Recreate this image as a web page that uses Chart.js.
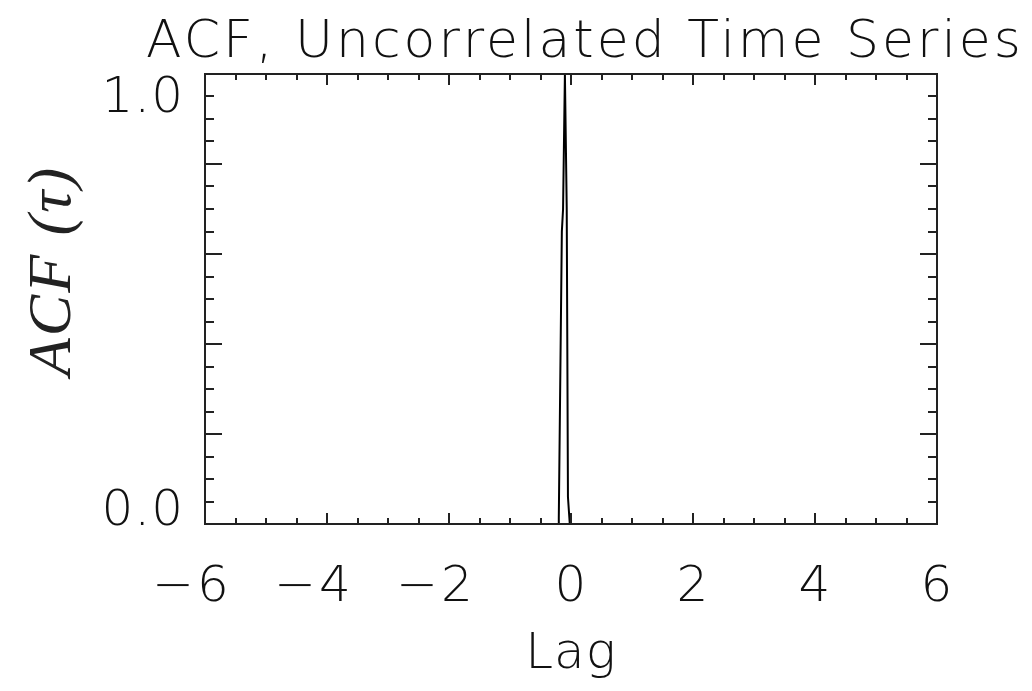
<!DOCTYPE html>
<html>
<head>
<meta charset="utf-8">
<script src="https://cdn.jsdelivr.net/npm/chart.js@4"></script>
<style>
  html, body { margin: 0; padding: 0; background: #fff; }
  #wrap { width: 1032px; height: 691px; }
</style>
</head>
<body>
<div id="wrap"><canvas id="acfChart"></canvas></div>
<script>
// ACF of an uncorrelated series: a single narrow spike at lag ~0
const lags = [-6, -0.21, -0.2, -0.15, -0.13, -0.1, -0.07, -0.05, -0.02, 6];
const acfValues = [0, 0, 0.013, 0.65, 0.70, 1.0, 0.70, 0.06, 0, 0];

const xTickLabels = [-6, -4, -2, 0, 2, 4, 6];
const yTickLabels = [0, 1];
const xMinorStep = 0.5;
const yMinorStep = 0.05;
const xMajorStep = 2;
const yMajorStep = 0.2;

const titleText = 'ACF, Uncorrelated Time Series';
const xTitle = 'Lag';

const axisColor = '#222';
const sansFont = '"DejaVu Sans", "Liberation Sans", sans-serif';

// draws the IDL style box, inward ticks and all text
const idlAxes = {
  id: 'idlAxes',
  afterDraw(chart) {
    const ctx = chart.ctx;
    const area = chart.chartArea;
    const xs = chart.scales.x;
    const ys = chart.scales.y;
    ctx.save();
    ctx.strokeStyle = axisColor;
    ctx.lineWidth = 2;
    ctx.strokeRect(area.left, area.top, area.right - area.left, area.bottom - area.top);

    ctx.beginPath();
    for (let v = xs.min; v <= xs.max + 1e-9; v += xMinorStep) {
      const px = Math.round(xs.getPixelForValue(v));
      const major = Math.abs(v / xMajorStep - Math.round(v / xMajorStep)) < 1e-6;
      const len = major ? 11 : 6;
      ctx.moveTo(px, area.bottom); ctx.lineTo(px, area.bottom - len);
      ctx.moveTo(px, area.top); ctx.lineTo(px, area.top + len);
    }
    for (let v = ys.min; v <= ys.max + 1e-9; v += yMinorStep) {
      const py = Math.round(ys.getPixelForValue(v));
      const major = Math.abs(v / yMajorStep - Math.round(v / yMajorStep)) < 1e-6;
      const len = major ? 17 : 9;
      ctx.moveTo(area.left, py); ctx.lineTo(area.left + len, py);
      ctx.moveTo(area.right, py); ctx.lineTo(area.right - len, py);
    }
    ctx.stroke();

    ctx.fillStyle = '#111';
    // x tick labels
    ctx.font = '200 50px ' + sansFont;
    ctx.letterSpacing = '3px';
    ctx.textAlign = 'center';
    ctx.textBaseline = 'alphabetic';
    xTickLabels.forEach(v => {
      const txt = (v < 0 ? '\u2212' : '') + Math.abs(v);
      let px = xs.getPixelForValue(v) + 1;
      if (v < 0) px -= 14;
      ctx.fillText(txt, px, area.bottom + 77);
    });
    // y tick labels (top one sits below its tick, bottom one above)
    ctx.letterSpacing = '1px';
    ctx.textAlign = 'right';
    yTickLabels.forEach(v => {
      const py = ys.getPixelForValue(v);
      ctx.fillText(v.toFixed(1), area.left - 21, v === ys.max ? py + 38 : py + 1);
    });
    // title
    ctx.font = '200 52px ' + sansFont;
    ctx.letterSpacing = '3px';
    ctx.textAlign = 'center';
    ctx.fillText(titleText, (area.left + area.right) / 2 + 14, 57);
    // x title
    ctx.font = '200 50px ' + sansFont;
    ctx.letterSpacing = '1px';
    ctx.fillText(xTitle, (area.left + area.right) / 2, area.bottom + 144);
    // y title, rotated, italic serif
    ctx.letterSpacing = '2px';
    ctx.translate(70, 271);
    ctx.rotate(-Math.PI / 2);
    ctx.fillStyle = '#222';
    ctx.font = 'italic 62px "Liberation Serif", "DejaVu Serif", serif';
    ctx.textAlign = 'center';
    ctx.fillText('ACF (\u03c4)', 0, 0);
    ctx.restore();
  }
};

const ctx = document.getElementById('acfChart').getContext('2d');
const acfChart = new Chart(ctx, {
  type: 'scatter',
  data: {
    datasets: [{
      label: 'ACF',
      data: lags.map((lag, i) => ({x: lag, y: acfValues[i]})),
      showLine: true,
      borderColor: '#000',
      borderWidth: 2,
      pointRadius: 0,
      tension: 0
    }]
  },
  options: {
    responsive: true,
    maintainAspectRatio: false,
    animation: false,
    layout: {
      padding: {left: 205, top: 74, right: 95, bottom: 167}
    },
    plugins: {
      legend: {display: false},
      tooltip: {enabled: false},
      title: {display: false}
    },
    scales: {
      x: {
        type: 'linear',
        min: -6,
        max: 6,
        ticks: {display: false},
        grid: {display: false, drawTicks: false},
        border: {display: false}
      },
      y: {
        type: 'linear',
        min: 0,
        max: 1,
        ticks: {display: false},
        grid: {display: false, drawTicks: false},
        border: {display: false}
      }
    }
  },
  plugins: [idlAxes]
});
</script>
</body>
</html>
